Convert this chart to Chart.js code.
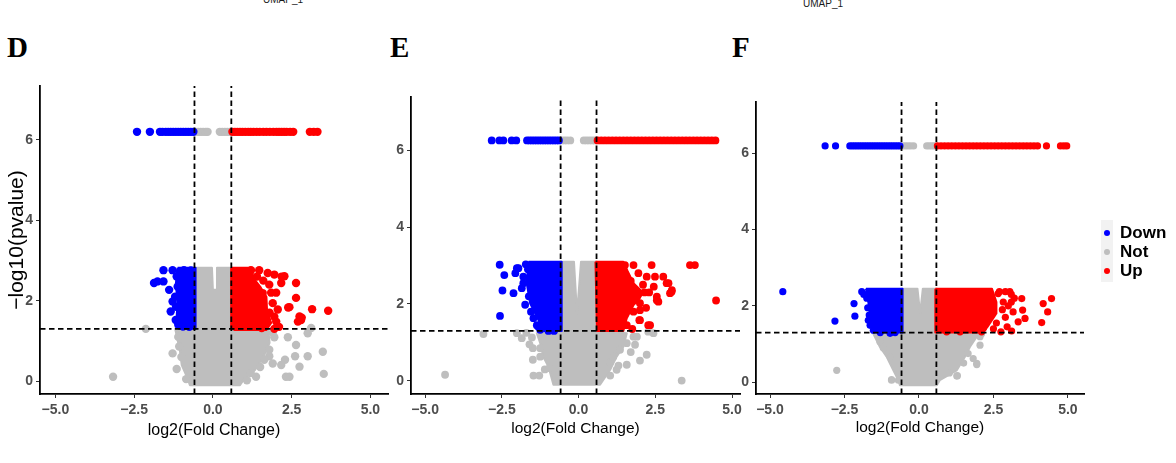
<!DOCTYPE html>
<html>
<head>
<meta charset="utf-8">
<script src="https://cdn.jsdelivr.net/npm/chart.js@4.4.1/dist/chart.umd.min.js"></script>
<style>
  body { margin: 0; width: 1176px; height: 463px; background: #fff; position: relative; overflow: hidden; }
  canvas { position: absolute; }
  .tag { position: absolute; font: bold 29px/1 "Liberation Serif", "Times New Roman", serif; color: #000; }
  .umap { position: absolute; font: 10px/10px "Liberation Sans", Arial, sans-serif; color: #1a1a1a; }
  #legendKey { position: absolute; left: 1101px; top: 220px; width: 12px; height: 62px; background: #f2f2f2; }
  #legend { position: absolute; left: 1101px; top: 223px; }
  .row { height: 19.2px; position: relative; }
  .dot { position: absolute; left: 3px; top: 6.6px; width: 6px; height: 6px; border-radius: 50%; }
  .lab { position: absolute; left: 19px; top: 0; line-height: 19.2px; white-space: nowrap;
         font: bold 17px/19.2px "Liberation Sans Narrow", "Arial Narrow", "Liberation Sans", sans-serif; color: #000; }
</style>
</head>
<body>
<div class="umap" style="left:263px;top:-5px">UMAP_1</div>
<div class="umap" style="left:803px;top:-1px">UMAP_1</div>
<div class="tag" style="left:7px;top:33px">D</div>
<div class="tag" style="left:390px;top:33px">E</div>
<div class="tag" style="left:732px;top:33px">F</div>

<canvas id="chartD" width="400" height="383" style="left:0px;top:80px"></canvas>
<canvas id="chartE" width="373" height="383" style="left:371px;top:80px"></canvas>
<canvas id="chartF" width="380" height="383" style="left:716px;top:80px"></canvas>

<div id="legendKey"></div>
<div id="legend"></div>

<script>
// groups and colours
const groups = ["Down", "Not", "Up"];
const groupColors = ["#0000ff", "#bebebe", "#ff0000"];

// axis ticks and thresholds
const xTicks = [-5, -2.5, 0, 2.5, 5];
const yTicks = [0, 2, 4, 6];
const fcCut = 0.585;
const pCut = 1.3;

// ---- panel D ----
const topYD = 6.2;
const downTopD = [-2.41, -2.0, -1.68, -1.6, -1.5, -1.42, -1.34, -1.26, -1.18, -1.1, -1.02, -0.94, -0.86, -0.78, -0.7, -0.62];
const notTopD = [-0.55, -0.47, -0.39, -0.31, -0.23, -0.17, 0.22, 0.3, 0.38, 0.46, 0.54];
const upTopD = [0.62, 0.7, 0.78, 0.86, 0.94, 1.03, 1.12, 1.2, 1.29, 1.39, 1.49, 1.6, 1.7, 1.81, 1.92, 2.02, 2.1, 2.18, 2.26, 2.34, 2.45, 2.55, 3.08, 3.2, 3.32];
const downD = [[-1.57, 2.76], [-1.28, 2.76], [-0.92, 2.76], [-1.87, 2.44], [-1.76, 2.48], [-1.57, 2.48], [-1.39, 2.27],
  [-1.28, 1.98], [-1.34, 1.73], [-1.18, 1.52], [-1.15, 2.6], [-1.2, 2.1], [-1.1, 1.4], [-0.95, 1.36], [-0.75, 1.35],
  [-1.05, 2.72], [-0.7, 2.75], [-1.17, 1.85], [-1.12, 2.35]];
const notD = [[-2.13, 1.3], [-1.28, 0.69], [-1.07, 0.86], [-3.17, 0.11], [2.38, 1.09], [2.64, 0.9], [2.61, 0.62], [2.75, 0.36],
  [2.29, 0.53], [2.17, 0.4], [2.32, 0.11], [2.43, 0.11], [3.01, 1.19], [3.12, 1.32], [3.49, 0.73], [3.01, 0.62],
  [3.52, 0.18], [1.37, 0.11], [1.08, 0.02], [1.79, 0.62], [1.9, 0.44], [1.95, 1.09], [1.63, 0.53], [1.79, 0.78],
  [-1.15, 0.3], [-1.1, 1.1], [1.9, 1.2], [-0.85, 0.05], [-1.0, 0.6], [1.5, 0.35], [1.2, 0.2]];
const upD = [[2.64, 2.44], [3.15, 1.79], [3.66, 1.75], [2.64, 2.07], [2.43, 1.84], [2.75, 1.61], [2.8, 1.52], [2.7, 1.48],
  [2.27, 2.61], [2.17, 2.44], [1.74, 2.69], [1.47, 2.76], [1.21, 2.76], [1.95, 2.65], [2.01, 1.48], [2.06, 1.78],
  [1.9, 1.94], [1.58, 2.19], [2.01, 2.2], [1.79, 2.4], [1.4, 2.6], [1.6, 2.5], [1.85, 2.2], [1.95, 1.6], [2.1, 1.35],
  [1.95, 1.3], [1.55, 1.32], [1.3, 2.4], [1.45, 2.0], [1.8, 1.7], [2.18, 2.6], [2.39, 1.83], [2.82, 1.58]];
// outlines of the dense point clouds
const downCoreD = [[-1.12, 2.82], [-0.55, 2.82], [-0.55, 1.3], [-1.08, 1.3], [-1.15, 1.6], [-1.12, 2.0], [-1.18, 2.4]];
const notCoreD = [[-0.6, 2.82], [-0.03, 2.82], [0.0, 2.27], [0.1, 2.27], [0.13, 2.82], [0.62, 2.82], [0.62, 1.32],
  [1.76, 1.27], [1.8, 0.95], [1.6, 0.6], [1.33, 0.27], [0.96, 0.02], [0.86, -0.1], [-0.73, -0.1], [-0.83, 0.11],
  [-0.99, 0.4], [-1.05, 0.77], [-1.2, 1.31], [-0.6, 1.32]];
const upCoreD = [[0.58, 2.82], [1.2, 2.82], [1.3, 2.55], [1.5, 2.35], [1.7, 2.1], [1.72, 1.75], [1.85, 1.45], [1.7, 1.27],
  [0.7, 1.27], [0.58, 1.32]];

// ---- panel E ----
const topYE = 6.25;
const downTopE = [-2.83, -2.58, -2.45, -2.18, -2.03, -1.68, -1.6, -1.52, -1.44, -1.36, -1.28, -1.2, -1.12, -1.04, -0.96, -0.88, -0.8, -0.72, -0.64];
const notTopE = [-0.55, -0.46, -0.37, -0.27, 0.17, 0.26, 0.35, 0.44, 0.53];
const upTopE = [0.62, 0.74, 0.86, 0.98, 1.1, 1.22, 1.34, 1.46, 1.58, 1.7, 1.82, 1.94, 2.06, 2.18, 2.3, 2.42, 2.54, 2.66,
  2.78, 2.9, 3.02, 3.14, 3.26, 3.38, 3.5, 3.62, 3.74, 3.86, 3.98, 4.1, 4.22, 4.34, 4.46];
const downE = [[-2.57, 3.02], [-2.42, 2.75], [-2.48, 2.35], [-2.56, 1.69], [-2.12, 2.28], [-2.01, 2.93], [-2.06, 2.8],
  [-1.96, 2.93], [-1.72, 3.03], [-1.8, 2.71], [-1.85, 2.41], [-1.74, 1.98], [-1.47, 1.63], [-1.36, 1.45], [-1.31, 1.41],
  [-1.15, 1.37], [-0.98, 1.3], [-1.8, 2.54], [-1.65, 2.9], [-1.62, 2.2], [-1.55, 1.8], [-1.25, 1.33], [-0.8, 1.3]];
const notE = [[-3.1, 1.22], [-2.01, 1.24], [-1.85, 1.11], [-1.49, 0.85], [-1.49, 0.55], [-1.47, 0.14], [-1.28, 0.14],
  [-4.35, 0.16], [-1.25, 0.85], [3.36, 0.01], [2.22, 0.68], [2.0, 0.53], [2.27, 1.28], [2.44, 1.24], [1.79, 1.15],
  [1.84, 0.94], [1.03, 0.14], [1.03, 0.5], [1.13, 0.63], [1.35, 0.81], [1.57, 0.98], [1.9, 1.15], [-1.7, 1.25],
  [-1.6, 0.95], [-1.1, 0.3], [1.3, 0.4], [1.7, 0.75], [-1.52, 1.13], [-1.25, 0.63], [-0.95, 0.33], [1.24, 0.29], [1.57, 0.42]];
const upE = [[1.51, 3.01], [1.79, 3.01], [2.38, 3.01], [1.95, 2.8], [2.22, 2.71], [2.49, 2.71], [2.76, 2.71], [2.93, 2.54],
  [3.04, 2.36], [2.98, 2.28], [2.55, 2.19], [2.6, 2.06], [2.0, 2.02], [2.0, 1.58], [2.33, 1.45], [1.79, 1.8], [1.57, 1.45],
  [3.63, 3.01], [3.79, 3.01], [4.48, 2.09], [2.27, 1.45], [1.98, 1.58], [2.0, 1.84], [2.55, 2.1], [2.87, 2.54],
  [3.03, 2.32], [2.1, 2.5], [2.3, 2.3], [1.7, 2.6], [1.9, 2.2], [2.2, 1.9], [1.75, 1.35], [2.15, 2.3], [2.45, 2.45]];
const downCoreE = [[-1.63, 3.1], [-0.55, 3.1], [-0.55, 1.3], [-1.15, 1.3], [-1.36, 1.67], [-1.58, 2.02], [-1.69, 2.54]];
const notCoreE = [[-0.62, 3.1], [-0.15, 3.1], [-0.05, 1.75], [0.08, 3.1], [0.6, 3.1], [0.6, 1.3], [1.57, 1.24],
  [1.46, 0.89], [1.24, 0.63], [1.03, 0.29], [0.7, -0.1], [-0.82, -0.1], [-0.98, 0.37], [-1.15, 0.63], [-1.25, 0.98],
  [-1.36, 1.24], [-0.62, 1.3]];
const upCoreE = [[0.55, 3.1], [1.46, 3.1], [1.6, 2.85], [1.79, 2.54], [2.1, 2.3], [1.95, 2.1], [1.79, 1.97], [1.57, 1.63],
  [1.46, 1.3], [0.6, 1.3]];

// ---- panel F ----
const topYF = 6.19;
const downTopF = [-3.15, -2.8, -2.32, -2.24, -2.16, -2.08, -2.0, -1.92, -1.84, -1.76, -1.68, -1.6, -1.52, -1.44, -1.36,
  -1.28, -1.2, -1.12, -1.04, -0.96, -0.88, -0.8, -0.72, -0.64];
const notTopF = [-0.55, -0.46, -0.37, -0.28, -0.18, 0.26, 0.34, 0.42, 0.5, 0.57];
const upTopF = [0.62, 0.74, 0.86, 0.98, 1.1, 1.22, 1.34, 1.46, 1.58, 1.7, 1.82, 1.94, 2.06, 2.18, 2.3, 2.42, 2.54, 2.66,
  2.78, 2.9, 3.02, 3.14, 3.26, 3.38, 3.5, 3.62, 3.74, 3.86, 3.98, 4.28, 4.75, 4.86, 4.96];
const downF = [[-4.57, 2.37], [-2.82, 1.6], [-2.18, 2.06], [-2.15, 1.73], [-1.92, 2.37], [-1.67, 1.76], [-1.7, 1.62],
  [-1.64, 1.49], [-1.53, 1.36], [-0.97, 1.28], [-1.85, 2.3], [-1.75, 2.2], [-1.72, 1.95], [-1.3, 1.3], [-0.8, 1.3]];
const notF = [[-0.92, 0.07], [-0.58, 0.07], [1.27, 0.16], [1.94, 0.49], [2.05, 1.19], [-1.31, 1.06], [-2.76, 0.31],
  [-0.92, 0.05], [-0.69, 0.05], [1.29, 0.17], [1.02, 0.24], [1.94, 0.46], [2.05, 0.97], [1.65, 0.75], [1.82, 0.62],
  [-1.03, 0.75], [-0.96, 0.66], [2.1, 1.27], [-1.2, 0.9], [1.5, 0.5]];
const upF = [[3.05, 2.37], [3.45, 2.19], [3.48, 1.89], [3.16, 1.84], [3.56, 1.67], [3.33, 1.58], [2.96, 1.45], [3.11, 1.34],
  [2.75, 1.32], [4.17, 2.06], [4.45, 2.19], [4.32, 1.84], [4.12, 1.56], [2.66, 2.32], [2.83, 2.1], [2.49, 1.97],
  [2.16, 1.41], [2.1, 1.32], [1.38, 1.32], [0.93, 1.32], [2.7, 2.37], [2.9, 2.37], [3.1, 2.3], [2.8, 1.9], [3.0, 2.0],
  [2.9, 1.7], [2.6, 1.55], [3.2, 2.2], [2.5, 1.4], [3.1, 2.1]];
const downCoreF = [[-1.78, 2.45], [-0.55, 2.45], [-0.55, 1.3], [-1.42, 1.3], [-1.6, 1.5], [-1.65, 1.8], [-1.7, 2.1]];
const notCoreF = [[-0.6, 2.45], [-0.05, 2.45], [0.04, 1.8], [0.13, 2.45], [0.6, 2.45], [0.6, 1.3], [1.97, 1.28],
  [1.94, 1.19], [1.71, 0.92], [1.54, 0.66], [1.27, 0.31], [0.7, 0.05], [0.6, -0.08], [-0.64, -0.08], [-0.69, 0.05],
  [-0.86, 0.31], [-1.08, 0.66], [-1.31, 0.92], [-1.48, 1.19], [-1.55, 1.3], [-0.6, 1.3]];
const upCoreF = [[0.55, 2.45], [2.45, 2.45], [2.6, 2.1], [2.6, 1.8], [2.3, 1.45], [2.15, 1.3], [0.55, 1.3]];

const sansFont = "'Liberation Sans', Arial, sans-serif";
const narrowFont = "'Liberation Sans Narrow', 'Arial Narrow', 'Liberation Sans', sans-serif";

const panels = [
  { id: "chartD", padTop: 6, padRight: 12, xMin: -5.49, xMax: 5.56, yMin: -0.32, yMax: 7.34, radius: 4.2,
    yTitle: "\u2212log10(pvalue)", xTitleSize: 16, xTitlePad: 22.4, topY: topYD,
    tops: [downTopD, notTopD, upTopD], points: [downD, notD, upD], cores: [downCoreD, notCoreD, upCoreD] },
  { id: "chartE", padTop: 17, padRight: 4, xMin: -5.46, xMax: 5.26, yMin: -0.34, yMax: 7.38, radius: 3.9,
    yTitle: "", xTitleSize: 15.5, xTitlePad: 24.7, topY: topYE,
    tops: [downTopE, notTopE, upTopE], points: [downE, notE, upE], cores: [downCoreE, notCoreE, upCoreE] },
  { id: "chartF", padTop: 22, padRight: 12, xMin: -5.47, xMax: 5.54, yMin: -0.31, yMax: 7.34, radius: 3.6,
    yTitle: "", xTitleSize: 15.5, xTitlePad: 25.7, topY: topYF,
    tops: [downTopF, notTopF, upTopF], points: [downF, notF, upF], cores: [downCoreF, notCoreF, upCoreF] }
];

const toXY = list => list.map(p => ({ x: p[0], y: p[1] }));
const fmtX = v => (v < 0 ? "\u2212" : "") + Math.abs(v).toFixed(1);

// draw order: grey at the bottom, then blue, then red, dashed lines on top
const layerOrder = [4, 6, 2];

function makePanel(p) {
  const datasets = [];
  groups.forEach((g, i) => {
    datasets.push({
      type: "line",
      label: g + " core",
      data: toXY(p.cores[i].concat([p.cores[i][0]])),
      borderColor: groupColors[i],
      backgroundColor: groupColors[i],
      borderWidth: 2,
      borderJoinStyle: "round",
      pointRadius: 0,
      tension: 0,
      fill: "shape",
      order: layerOrder[i]
    });
    datasets.push({
      label: g,
      data: toXY(p.points[i]).concat(p.tops[i].map(x => ({ x: x, y: p.topY }))),
      backgroundColor: groupColors[i],
      borderWidth: 0,
      pointRadius: p.radius,
      order: layerOrder[i] - 1
    });
  });

  const dashed = {
    type: "line",
    borderColor: "#000",
    borderWidth: 1.8,
    borderDash: [5.5, 3.5],
    pointRadius: 0,
    fill: false,
    order: 0
  };
  datasets.push(Object.assign({}, dashed, { data: [{ x: -fcCut, y: p.yMin }, { x: -fcCut, y: p.yMax }] }));
  datasets.push(Object.assign({}, dashed, { data: [{ x: fcCut, y: p.yMin }, { x: fcCut, y: p.yMax }] }));
  datasets.push(Object.assign({}, dashed, { data: [{ x: p.xMin, y: pCut }, { x: p.xMax, y: pCut }] }));

  const tickFont = { family: narrowFont, size: 14, weight: "bold" };

  new Chart(document.getElementById(p.id), {
    type: "scatter",
    data: { datasets: datasets },
    options: {
      responsive: false,
      animation: false,
      events: [],
      layout: { padding: { top: p.padTop, right: p.padRight, bottom: 0, left: 0 } },
      plugins: { legend: { display: false }, tooltip: { enabled: false } },
      scales: {
        x: {
          type: "linear",
          min: p.xMin,
          max: p.xMax,
          afterBuildTicks: s => { s.ticks = xTicks.map(v => ({ value: v })); },
          afterFit: s => { s.height = 69; s.paddingLeft = 0; s.paddingRight = 0; },
          ticks: { callback: v => fmtX(v), color: "#4d4d4d", font: tickFont, padding: 4, maxRotation: 0, autoSkip: false },
          grid: { drawOnChartArea: false, drawTicks: true, tickLength: 4, color: "#333333", lineWidth: 1 },
          border: { display: true, color: "#000", width: 1.8 },
          title: { display: true, text: "log2(Fold Change)", color: "#000",
                   font: { family: sansFont, size: p.xTitleSize }, padding: { top: 0, bottom: p.xTitlePad } }
        },
        y: {
          type: "linear",
          min: p.yMin,
          max: p.yMax,
          afterBuildTicks: s => { s.ticks = yTicks.map(v => ({ value: v })); },
          afterFit: s => { s.width = 40; s.paddingTop = 0; s.paddingBottom = 0; },
          ticks: { callback: v => String(v), color: "#4d4d4d", font: tickFont, padding: 3, autoSkip: false },
          grid: { drawOnChartArea: false, drawTicks: true, tickLength: 4, color: "#333333", lineWidth: 1 },
          border: { display: true, color: "#000", width: 1.8 },
          title: { display: p.yTitle !== "", text: p.yTitle, color: "#000",
                   font: { family: sansFont, size: 21 }, padding: { top: 5, bottom: 0 } }
        }
      }
    }
  });
}

panels.forEach(makePanel);

// legend for the three groups
const legend = document.getElementById("legend");
groups.forEach((g, i) => {
  const row = document.createElement("div");
  row.className = "row";
  const dot = document.createElement("div");
  dot.className = "dot";
  dot.style.background = groupColors[i];
  const lab = document.createElement("div");
  lab.className = "lab";
  lab.textContent = g;
  row.appendChild(dot);
  row.appendChild(lab);
  legend.appendChild(row);
});
</script>
</body>
</html>
